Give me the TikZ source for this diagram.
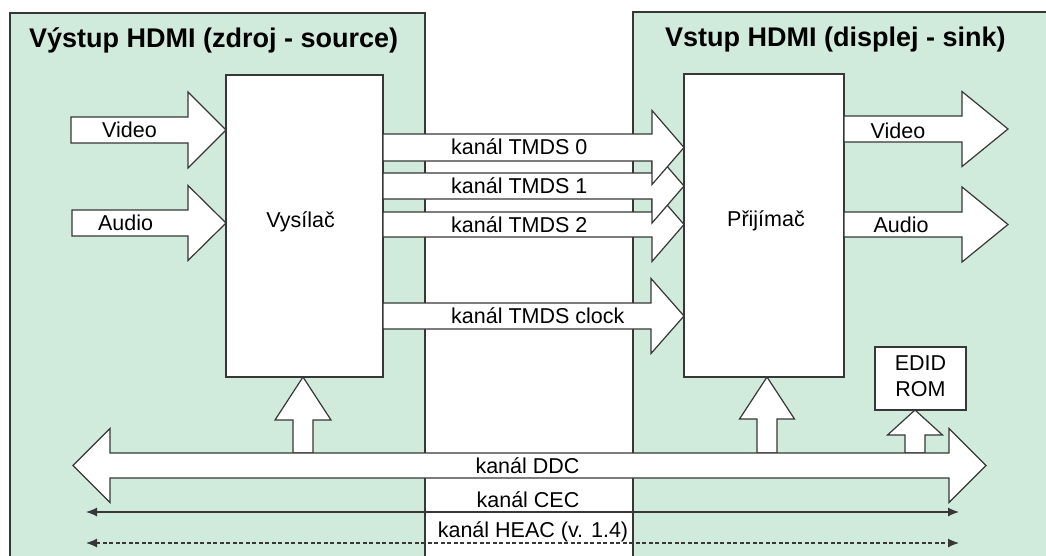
\documentclass[tikz,border=0pt]{standalone}
\usepackage{fontspec}
\setmainfont{Liberation Sans}
\usetikzlibrary{arrows.meta}
\definecolor{panelgreen}{RGB}{208,234,220}
\definecolor{edgegray}{RGB}{55,55,55}
\tikzset{
  panel/.style={fill=panelgreen, draw=edgegray, line width=1.2pt},
  blk/.style={fill=white, draw=edgegray, line width=1.2pt, line join=miter},
  unit/.style={rectangle, draw=edgegray, fill=white, line width=1.2pt, inner sep=0pt},
  lbl/.style={font=\fontsize{21.5}{24}\selectfont, anchor=base, inner sep=0pt},
  lblw/.style={lbl, anchor=base west},
  ttl/.style={font=\fontsize{27}{30}\selectfont\bfseries, anchor=base west, inner sep=0pt},
  bus/.style={draw=edgegray, line width=1.2pt,
    {Latex[length=11pt,width=9pt]}-{Latex[length=11pt,width=9pt]}},
}
% block arrow pointing right: start x, head base x, tip x, centre y, shaft half, head half
\newcommand\hdmiRArrow[6]{%
  \draw[blk] (#1,#4-#5) -- (#2,#4-#5) -- (#2,#4-#6) -- (#3,#4)
    -- (#2,#4+#6) -- (#2,#4+#5) -- (#1,#4+#5) -- cycle;}
% block arrow pointing up: centre x, bottom y, head base y, tip y, shaft half, head half
\newcommand\hdmiUArrow[6]{%
  \draw[blk] (#1-#5,#2) -- (#1-#5,#3) -- (#1-#6,#3) -- (#1,#4)
    -- (#1+#6,#3) -- (#1+#5,#3) -- (#1+#5,#2) -- cycle;}
% double block arrow: left tip, left head base, right head base, right tip, centre y, shaft half, head half
\newcommand\hdmiDArrow[7]{%
  \draw[blk] (#1,#5) -- (#2,#5-#7) -- (#2,#5-#6) -- (#3,#5-#6) -- (#3,#5-#7)
    -- (#4,#5) -- (#3,#5+#7) -- (#3,#5+#6) -- (#2,#5+#6) -- (#2,#5+#7) -- cycle;}

\begin{document}
\begin{tikzpicture}[x=1pt, y=-1pt]
  \useasboundingbox (0,0) rectangle (1046,555);
  \clip (0,0) rectangle (1046,555);

  % source and sink panels
  \draw[panel] (10,13) rectangle (425,570);
  \draw[panel] (633,12) rectangle (1060,570);
  \node[ttl] (srcTitle) at (29,47) {Výstup HDMI (zdroj - source)};
  \node[ttl] (snkTitle) at (665,46) {Vstup HDMI (displej - sink)};

  % transmitter, receiver and EDID memory
  \node[unit, minimum width=157pt, minimum height=302pt] (tx) at (304.5,226) {};
  \node[unit, minimum width=160pt, minimum height=303pt] (rx) at (764,225.5) {};
  \node[unit, minimum width=91pt, minimum height=63pt] (edid) at (920.5,378.5) {};
  \node[lbl] (txText) at (300.5,227) {Vysílač};
  \node[lbl] (rxText) at (766,226) {Přijímač};
  \node[lbl] (edidText) at (920.5,370) {EDID};
  \node[lbl] (romText) at (920.5,396) {ROM};

  % inputs of the transmitter
  \hdmiRArrow{71}{188}{226}{130}{13}{38}
  \hdmiRArrow{72}{188}{226}{223}{13}{37.5}
  \node[lbl] (vidIn) at (129.5,137) {Video};
  \node[lbl] (audIn) at (125.5,230) {Audio};

  % outputs of the receiver
  \hdmiRArrow{844}{962}{1008}{129}{13}{37.5}
  \hdmiRArrow{844}{962}{1008}{224.5}{12.5}{37.5}
  \node[lbl] (vidOut) at (898,138) {Video};
  \node[lbl] (audOut) at (901,232) {Audio};

  % TMDS channels
  \hdmiRArrow{383}{652}{684}{224.5}{12.5}{37}
  \hdmiRArrow{383}{652}{684}{186}{13}{37}
  \hdmiRArrow{383}{652}{684}{147.5}{13.5}{37}
  \hdmiRArrow{383}{651}{684}{316}{13}{37.5}
  \node[lblw] (tmds0) at (451,154) {kanál TMDS 0};
  \node[lblw] (tmds1) at (451,193) {kanál TMDS 1};
  \node[lblw] (tmds2) at (451,232) {kanál TMDS 2};
  \node[lblw] (tmdsc) at (451,323) {kanál TMDS clock};

  % DDC bus with its taps
  \hdmiUArrow{303}{453}{420}{377}{10}{28}
  \hdmiUArrow{767}{453}{419}{377}{10}{27.5}
  \hdmiUArrow{915}{453}{435}{410}{10}{27.5}
  \hdmiDArrow{73}{110}{949}{986}{465.5}{12.5}{37}
  \node[lbl] (ddc) at (527.5,473) {kanál DDC};

  % CEC and HEAC lines
  \coordinate (cecL) at (86,512);
  \coordinate (cecR) at (959,512);
  \draw[bus] (cecL) -- (cecR);
  \node[lbl] (cec) at (528,507) {kanál CEC};
  \coordinate (heacL) at (86,543);
  \coordinate (heacR) at (959,543);
  \draw[bus, dash pattern=on 4pt off 2.5pt] (heacL) -- (heacR);
  \node[lbl] (heac) at (533,537) {kanál HEAC (v. 1.4)};
\end{tikzpicture}
\end{document}
